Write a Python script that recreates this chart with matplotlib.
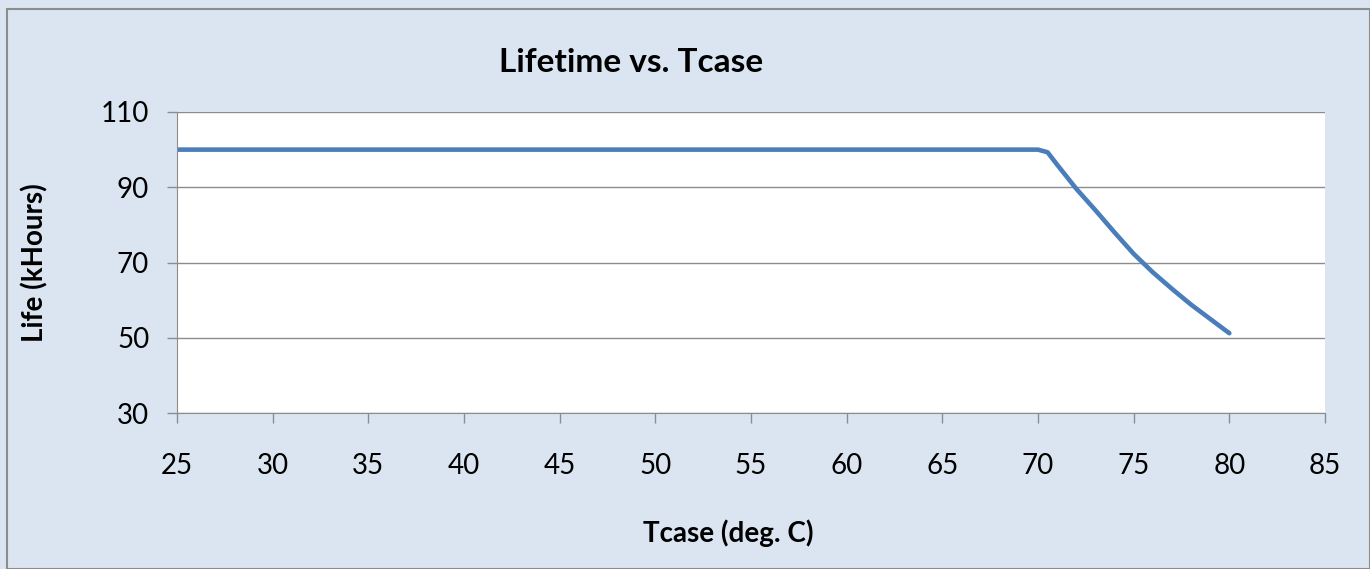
import matplotlib.pyplot as plt
from matplotlib.patches import Rectangle

tcase = [25, 30, 35, 40, 45, 50, 55, 60, 65, 70, 70.5, 71, 72, 73, 74, 75, 76, 77, 78, 79, 80]
life = [100, 100, 100, 100, 100, 100, 100, 100, 100, 100, 99.3,
        96.0, 89.6, 83.9, 78.0, 72.3, 67.4, 63.0, 58.8, 55.0, 51.2]
xticks = [25, 30, 35, 40, 45, 50, 55, 60, 65, 70, 75, 80, 85]
yticks = [30, 50, 70, 90, 110]

plt.rcParams['font.family'] = ['Lato', 'DejaVu Sans']

bg = '#dbe5f1'
grid_c = '#8c8c8c'

fig = plt.figure(figsize=(13.7, 5.69), dpi=100, facecolor=bg)
W, H = 1370, 569
fig.patches.append(Rectangle((7 / W, 0), 1 - 7 / W, 1 - 9 / H, transform=fig.transFigure,
                             fill=False, edgecolor='#8c8c8c', linewidth=1.5))

ax = fig.add_axes([177 / W, 1 - 413 / H, (1325 - 177) / W, (413 - 112) / H])
ax.set_facecolor('white')
ax.plot(tcase, life, color='#4a7ebb', linewidth=3.3,
        solid_capstyle='round', solid_joinstyle='round')

ax.set_xlim(25, 85)
ax.set_ylim(30, 110)
ax.set_xticks(xticks)
ax.set_yticks(yticks)
ax.yaxis.grid(True, color=grid_c, linewidth=1)
ax.set_axisbelow(True)
for s in ['top', 'right']:
    ax.spines[s].set_visible(False)
for s in ['left', 'bottom']:
    ax.spines[s].set_color(grid_c)
ax.tick_params(axis='both', colors=grid_c, length=7, width=1, labelcolor='black', labelsize=20)
ax.tick_params(axis='x', pad=22)
ax.tick_params(axis='y', pad=13)

fig.text(728 / W, 1 - 533 / H, 'Tcase (deg. C)', fontsize=20, fontweight='bold',
         ha='center', va='center')
fig.text(35 / W, 1 - 263 / H, 'Life (kHours)', fontsize=20, fontweight='bold',
         ha='center', va='center', rotation=90)
fig.text(631 / W, 1 - 62 / H, 'Lifetime vs. Tcase', fontsize=24, fontweight='bold',
         ha='center', va='center')

fig.savefig('out.png', dpi=100, facecolor=bg)
